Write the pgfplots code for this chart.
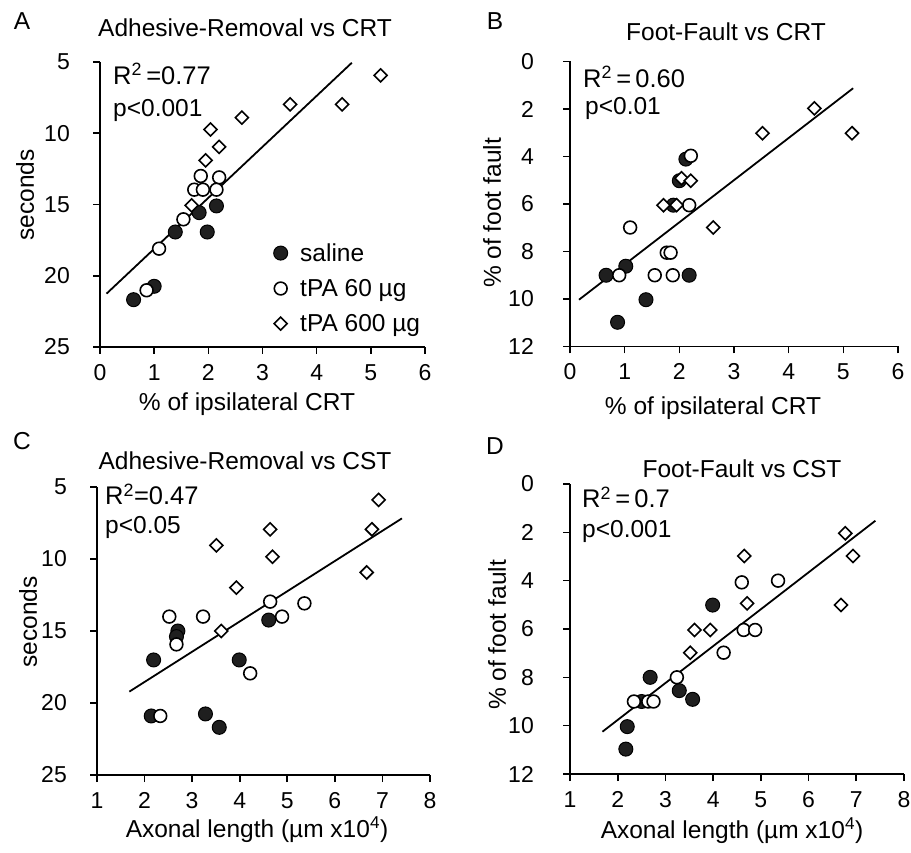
\documentclass[border=0pt]{standalone}
\usepackage{fontspec}
\setmainfont{Liberation Sans}
\usepackage{pgfplots}
\pgfplotsset{compat=1.18}

\newcommand\fa{\fontsize{24.5bp}{29bp}\selectfont}
\newcommand\fr{\fontsize{25.5bp}{30bp}\selectfont}
\newcommand\ft{\fontsize{23bp}{27bp}\selectfont}

\pgfplotsset{
  panel/.style={
    scale only axis, anchor=south west, clip=false,
    y dir=reverse,
    axis x line*=bottom, axis y line*=left,
    axis line style={line width=1.8bp, black},
    tick align=outside, major tick length=7bp,
    every tick/.style={line width=1.6bp, black},
    tick label style={font=\ft, inner sep=0pt},
    /pgf/number format/assume math mode=true,
    xticklabel shift=10bp, yticklabel shift=23bp,
  },
  saline/.style={only marks, mark=*, mark size=7bp,
    mark options={fill=black!88, draw=black, line width=1bp}},
  tpa60/.style={only marks, mark=*, mark size=6.4bp,
    mark options={fill=white, draw=black, line width=1.6bp}},
  tpa600/.style={only marks, mark=square*, mark size=4.6bp,
    mark options={fill=white, draw=black, line width=1.6bp, rotate=45}},
  fit/.style={black, line width=1.8bp, no marks, forget plot},
}

\begin{document}
\begin{tikzpicture}
\useasboundingbox (0,0) rectangle (911bp,853bp);

% A: adhesive removal vs CRT
\begin{axis}[panel, at={(100bp,506bp)}, width=325bp, height=285bp,
  xmin=0, xmax=6, ymin=5, ymax=25, xtick={0,...,6}, ytick={5,10,...,25},
  legend style={at={(axis cs:3.203,17.65)}, anchor=north west, draw=none, fill=none,
    inner sep=0pt, font=\fa, row sep=14.5bp, column sep=11.5bp,
    nodes={inner sep=1bp}},
  legend cell align=left]
\addplot[saline] coordinates {(0.62,21.68) (1.00,20.74) (1.39,16.93) (1.83,15.57) (2.15,15.10) (1.98,16.93)};
\addplot[tpa60] coordinates {(0.86,21.02) (1.09,18.10) (1.54,16.04) (1.74,13.96) (1.86,13.00) (1.90,13.96) (2.20,13.10) (2.15,13.96)};
\addplot[tpa600] coordinates {(5.18,5.94) (4.47,7.97) (3.51,7.97) (2.62,8.90) (2.04,9.73) (2.20,10.96) (1.95,11.90) (1.69,15.06)};
\addplot[fit] coordinates {(0.12,21.26) (4.65,5.05)};
\legend{saline, tPA 60 µg, tPA 600 µg}
\end{axis}

% B: foot fault vs CRT
\begin{axis}[panel, at={(570bp,506.5bp)}, width=328bp, height=285bp, yticklabel shift=29bp,
  xmin=0, xmax=6, ymin=0, ymax=12, xtick={0,...,6}, ytick={0,2,...,12}]
\addplot[saline] coordinates {(0.66,9.0) (1.02,8.62) (0.87,10.98) (1.39,10.03) (2.18,9.0) (2.12,4.11) (2.00,5.02) (1.89,6.05)};
\addplot[tpa60] coordinates {(0.90,9.0) (1.10,6.99) (1.55,9.0) (1.88,9.0) (1.77,8.05) (1.84,8.05) (2.18,6.05) (2.21,3.97)};
\addplot[tpa600] coordinates {(4.47,1.97) (5.16,3.02) (3.52,3.02) (2.62,6.99) (1.71,6.05) (1.95,6.05) (2.04,4.92) (2.21,5.02)};
\addplot[fit] coordinates {(0.165,10.03) (5.18,1.125)};
\end{axis}

% C: adhesive removal vs CST
\begin{axis}[panel, at={(97bp,78bp)}, width=333bp, height=288bp,
  xmin=1, xmax=8, ymin=5, ymax=25, xtick={1,...,8}, ytick={5,10,...,25}]
\addplot[saline] coordinates {(2.19,17.01) (2.14,20.90) (2.70,15.00) (2.67,15.39) (3.28,20.76) (3.57,21.69) (3.99,17.01) (4.61,14.24)};
\addplot[tpa60] coordinates {(2.52,14.0) (2.33,20.9) (2.67,15.93) (3.23,14.0) (4.22,17.94) (4.64,12.96) (4.89,14.0) (5.36,13.08)};
\addplot[tpa600] coordinates {(3.51,9.05) (4.64,7.94) (4.69,9.84) (3.93,11.99) (3.61,15.0) (6.92,5.9) (6.78,7.94) (6.67,10.93)};
\addplot[fit] coordinates {(1.68,19.21) (7.41,7.18)};
\end{axis}

% D: foot fault vs CST
\begin{axis}[panel, at={(570bp,79bp)}, width=334bp, height=290bp, yticklabel shift=29bp,
  xmin=1, xmax=8, ymin=0, ymax=12, xtick={1,...,8}, ytick={0,2,...,12}]
\addplot[saline] coordinates {(2.17,10.97) (2.20,10.04) (2.50,9.0) (2.68,8.0) (3.29,8.55) (3.57,8.91) (3.99,5.01)};
\addplot[tpa60] coordinates {(2.34,9.0) (2.64,9.0) (2.75,9.0) (3.24,8.0) (4.22,6.98) (4.60,4.07) (4.64,6.04) (4.88,6.04) (5.36,4.0)};
\addplot[tpa600] coordinates {(6.77,2.04) (6.93,2.98) (6.68,5.01) (4.65,2.98) (4.71,4.94) (3.61,6.04) (3.94,6.04) (3.52,6.98)};
\addplot[fit] coordinates {(1.68,10.25) (7.40,1.52)};
\end{axis}

% panel letters, titles, axis labels, statistics
\begin{scope}[every node/.style={font=\fa, inner sep=0pt}]
\node at (22bp,832bp) {A};
\node at (495bp,832bp) {B};
\node at (22bp,412bp) {C};
\node at (495bp,407bp) {D};
\node[anchor=base] at (245bp,816bp) {Adhesive-Removal vs CRT};
\node[anchor=base] at (726bp,812bp) {Foot-Fault vs CRT};
\node[anchor=base] at (245bp,383bp) {Adhesive-Removal vs CST};
\node[anchor=base] at (742bp,375bp) {Foot-Fault vs CST};
\node[anchor=base] at (247bp,442bp) {\% of ipsilateral CRT};
\node[anchor=base] at (713bp,438bp) {\% of ipsilateral CRT};
\node[anchor=base] at (257bp,16bp) {Axonal length (µm x10\textsuperscript{4})};
\node[anchor=base] at (732bp,15bp) {Axonal length (µm x10\textsuperscript{4})};
\node[rotate=90] at (25bp,658bp) {seconds};
\node[rotate=90] at (492bp,640bp) {\% of foot fault};
\node[rotate=90] at (28bp,231bp) {seconds};
\node[rotate=90] at (497bp,218bp) {\% of foot fault};
\node[anchor=base west, font=\fr] at (113bp,768bp) {R\textsuperscript{2}\,=0.77};
\node[anchor=base west] at (113bp,736bp) {p<0.001};
\node[anchor=base west, font=\fr] at (583bp,765bp) {R\textsuperscript{2}\,=\,0.60};
\node[anchor=base west] at (585bp,738bp) {p<0.01};
\node[anchor=base west, font=\fr] at (105bp,348bp) {R\textsuperscript{2}=0.47};
\node[anchor=base west] at (105bp,319bp) {p<0.05};
\node[anchor=base west, font=\fr] at (582bp,345bp) {R\textsuperscript{2}\,=\,0.7};
\node[anchor=base west] at (582bp,315bp) {p<0.001};
\end{scope}
\end{tikzpicture}
\end{document}
